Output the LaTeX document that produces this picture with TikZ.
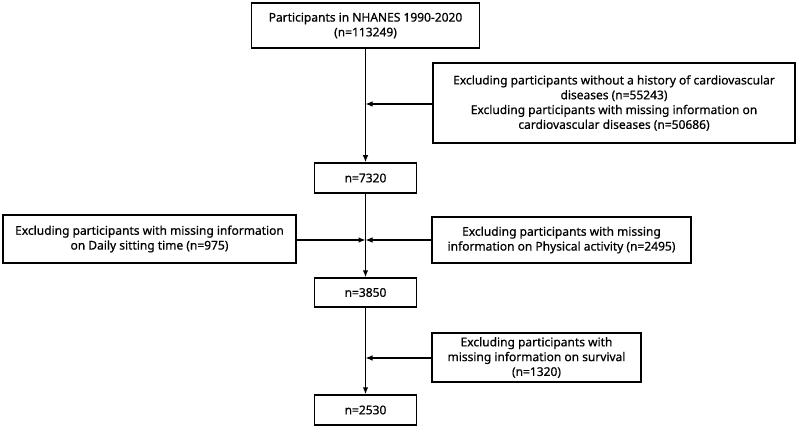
\documentclass[tikz,border=0pt]{standalone}
\usepackage{fontspec}
\setmainfont{Noto Sans}[FakeBold=0.6]
\usetikzlibrary{arrows.meta}
\begin{document}
\begin{tikzpicture}[x=1pt,y=-1pt,
  box/.style={draw, line width=1.5pt, align=center, inner sep=0pt, font=\fontsize{12}{14.8}\selectfont},
  conn/.style={line width=1.2pt, -{Latex[length=7pt,width=5.5pt]}}]
\useasboundingbox (0,0) rectangle (799,427);
\node[box, minimum width=228pt, minimum height=45pt] (top) at (365.5,25.5) {Participants in NHANES 1990-2020\\(n=113249)};
\node[box, minimum width=362pt, minimum height=80pt] (ex1) at (614,103) {Excluding participants without a history of cardiovascular\\diseases (n=55243)\\Excluding participants with missing information on\\cardiovascular diseases (n=50686)};
\node[box, minimum width=102pt, minimum height=30pt] (n1) at (365.5,178) {n=7320};
\node[box, minimum width=293pt, minimum height=48pt] (exl) at (149.5,239) {Excluding participants with missing information\\on Daily sitting time (n=975)};
\node[box, minimum width=259pt, minimum height=46pt] (exr) at (561.5,240) {Excluding participants with missing\\information on Physical activity (n=2495)};
\node[box, minimum width=102pt, minimum height=29pt] (n2) at (365.5,292.5) {n=3850};
\node[box, minimum width=209pt, minimum height=49pt] (ex3) at (536.5,357.5) {Excluding participants with\\missing information on survival\\(n=1320)};
\node[box, minimum width=102pt, minimum height=30pt] (n3) at (365.5,410) {n=2530};
\coordinate (j1) at (365.5,104);
\coordinate (j2) at (365.5,240);
\coordinate (j3) at (365.5,358);
\draw[conn] (top) -- (n1);
\draw[conn] (n1) -- (n2);
\draw[conn] (n2) -- (n3);
\draw[conn] (ex1.west |- j1) -- (j1);
\draw[conn] (exl.east |- j2) -- (j2);
\draw[conn] (exr.west |- j2) -- (j2);
\draw[conn] (ex3.west |- j3) -- (j3);
\end{tikzpicture}
\end{document}
